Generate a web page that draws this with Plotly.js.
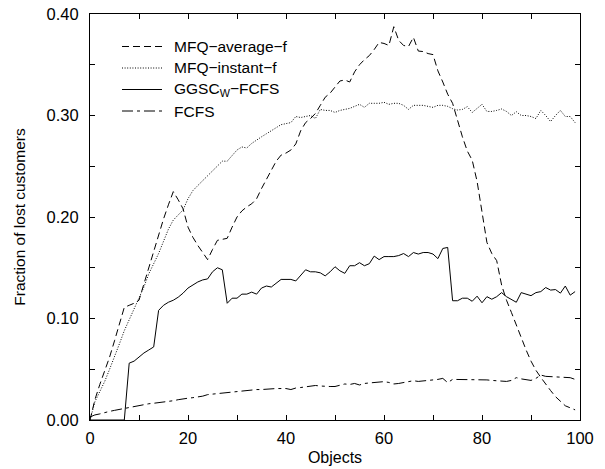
<!DOCTYPE html>
<html>
<head>
<meta charset="utf-8">
<script src="https://cdn.plot.ly/plotly-3.0.1.min.js"></script>
<style>
  html, body { margin: 0; padding: 0; background: #fff; }
  #chart { width: 605px; height: 469px; }
</style>
</head>
<body>
<div id="chart"></div>
<script>
// Number of objects (x axis), 0..99
const objects = Array.from({length: 100}, (_, i) => i);

const seriesNames = ['MFQ\u2212average\u2212f', 'MFQ\u2212instant\u2212f', 'GGSC<sub>W</sub>\u2212FCFS', 'FCFS'];

// Fraction of lost customers per policy
const mfqAverage = [
  0.000, 0.020, 0.035, 0.048, 0.062, 0.078, 0.095, 0.111, 0.113, 0.115,
  0.118, 0.134, 0.152, 0.168, 0.184, 0.198, 0.212, 0.225, 0.217, 0.208,
  0.190, 0.180, 0.172, 0.165, 0.158, 0.168, 0.177, 0.178, 0.179, 0.190,
  0.200, 0.206, 0.210, 0.213, 0.218, 0.228, 0.237, 0.246, 0.255, 0.261,
  0.263, 0.266, 0.272, 0.285, 0.293, 0.297, 0.302, 0.310, 0.318, 0.322,
  0.328, 0.334, 0.335, 0.333, 0.343, 0.350, 0.355, 0.359, 0.365, 0.372,
  0.371, 0.369, 0.3875, 0.374, 0.369, 0.368, 0.377, 0.3635, 0.363, 0.361,
  0.360, 0.344, 0.333, 0.321, 0.312, 0.295, 0.279, 0.265, 0.256, 0.235,
  0.205, 0.175, 0.164, 0.157, 0.133, 0.118, 0.106, 0.093, 0.081, 0.069,
  0.058, 0.049, 0.042, 0.035, 0.029, 0.023, 0.018, 0.014, 0.012, 0.010
];

const mfqInstant = [
  0.000, 0.018, 0.028, 0.038, 0.050, 0.062, 0.075, 0.088, 0.099, 0.109,
  0.120, 0.131, 0.144, 0.154, 0.164, 0.176, 0.188, 0.197, 0.202, 0.207,
  0.218, 0.226, 0.231, 0.236, 0.240, 0.246, 0.251, 0.255, 0.255, 0.261,
  0.266, 0.269, 0.268, 0.2725, 0.276, 0.279, 0.282, 0.285, 0.288, 0.291,
  0.292, 0.293, 0.299, 0.298, 0.299, 0.300, 0.297, 0.306, 0.305, 0.305,
  0.303, 0.305, 0.306, 0.307, 0.309, 0.311, 0.308, 0.312, 0.312, 0.312,
  0.313, 0.311, 0.312, 0.312, 0.310, 0.306, 0.310, 0.310, 0.310, 0.309,
  0.308, 0.310, 0.310, 0.309, 0.3067, 0.3054, 0.306, 0.3087, 0.303, 0.307,
  0.311, 0.304, 0.304, 0.305, 0.3064, 0.304, 0.300, 0.3037, 0.300, 0.300,
  0.299, 0.297, 0.305, 0.300, 0.294, 0.300, 0.305, 0.299, 0.299, 0.293
];

const ggscFcfs = [
  0.000, 0.000, 0.000, 0.000, 0.000, 0.000, 0.000, 0.000, 0.056, 0.058,
  0.062, 0.066, 0.069, 0.072, 0.108, 0.113, 0.116, 0.118, 0.121, 0.125,
  0.130, 0.133, 0.136, 0.138, 0.139, 0.146, 0.150, 0.148, 0.115, 0.120,
  0.120, 0.124, 0.124, 0.126, 0.124, 0.130, 0.132, 0.131, 0.135, 0.1385,
  0.1385, 0.1385, 0.137, 0.143, 0.148, 0.146, 0.146, 0.145, 0.142, 0.146,
  0.151, 0.147, 0.1445, 0.152, 0.152, 0.155, 0.152, 0.154, 0.1615, 0.158,
  0.161, 0.161, 0.161, 0.162, 0.164, 0.161, 0.165, 0.1635, 0.165, 0.165,
  0.1635, 0.159, 0.169, 0.170, 0.1175, 0.1175, 0.120, 0.120, 0.117, 0.122,
  0.1155, 0.1215, 0.119, 0.1215, 0.1255, 0.1215, 0.119, 0.116, 0.1255, 0.124,
  0.1225, 0.1255, 0.1265, 0.1305, 0.128, 0.1285, 0.125, 0.132, 0.123, 0.1265
];

const fcfs = [
  0.003, 0.005, 0.006, 0.0075, 0.0085, 0.0095, 0.0105, 0.0115, 0.0125, 0.013,
  0.014, 0.015, 0.016, 0.0165, 0.017, 0.018, 0.0185, 0.019, 0.020, 0.021,
  0.0215, 0.022, 0.0225, 0.0235, 0.025, 0.0255, 0.026, 0.0265, 0.027, 0.0275,
  0.028, 0.029, 0.029, 0.0295, 0.030, 0.030, 0.0305, 0.031, 0.031, 0.031,
  0.031, 0.030, 0.0315, 0.032, 0.0325, 0.033, 0.034, 0.0335, 0.033, 0.033,
  0.033, 0.0345, 0.0355, 0.035, 0.036, 0.0345, 0.036, 0.0365, 0.037, 0.0378,
  0.0378, 0.037, 0.0355, 0.036, 0.037, 0.038, 0.0387, 0.038, 0.0385, 0.0385,
  0.039, 0.040, 0.041, 0.0368, 0.040, 0.040, 0.040, 0.040, 0.0395, 0.040,
  0.040, 0.0395, 0.039, 0.0385, 0.0378, 0.038, 0.039, 0.0417, 0.0405, 0.040,
  0.039, 0.041, 0.0443, 0.043, 0.0427, 0.0427, 0.0425, 0.042, 0.0417, 0.040
];

// Labelled ticks and the unlabelled ones in between
const xTickVals = [0, 20, 40, 60, 80, 100];
const xTickText = ['0', '20', '40', '60', '80', '100'];
const xMinorVals = [10, 30, 50, 70, 90];
const yTickVals = [0, 0.10, 0.20, 0.30, 0.40];
const yTickText = ['0.00', '0.10', '0.20', '0.30', '0.40'];
const yMinorVals = [0.05, 0.15, 0.25, 0.35];

const FONT = 'Liberation Sans, Arial, Helvetica, sans-serif';
const dashes = ['7px,4px', '1px,1.6px', 'solid', '11px,4px,3px,4px'];
const allSeries = [mfqAverage, mfqInstant, ggscFcfs, fcfs];

const traces = allSeries.map((ys, i) => ({
  x: objects,
  y: ys,
  type: 'scatter',
  mode: 'lines',
  name: seriesNames[i],
  line: {color: '#000', width: 1, dash: dashes[i]},
  showlegend: false,
  hoverinfo: 'skip'
}));

// Legend drawn in paper space: a sample line and a label per series
const legendShapes = [];
const legendNotes = [];
const plotW = 490, plotH = 406;
const legendRows = [46.5, 68, 89.5, 111];
seriesNames.forEach((name, i) => {
  const yp = (406 + 14 - legendRows[i]) / plotH;
  legendShapes.push({
    type: 'line', xref: 'paper', yref: 'paper',
    x0: 32 / plotW, x1: 72 / plotW, y0: yp, y1: yp,
    line: {color: '#000', width: 1, dash: dashes[i]}
  });
  legendNotes.push({
    xref: 'paper', yref: 'paper', x: 82 / plotW, y: yp,
    xanchor: 'left', yanchor: 'middle', showarrow: false,
    text: name, font: {family: FONT, size: 15.5, color: '#000'}
  });
});

const axisCommon = {
  showgrid: false, zeroline: false,
  showline: true, linecolor: '#000', linewidth: 1, mirror: 'ticks',
  ticks: 'inside', ticklen: 5, tickwidth: 1, tickcolor: '#000',
  tickmode: 'array',
  tickfont: {family: FONT, size: 16.5, color: '#000'}
};
const minorCommon = {ticks: 'inside', ticklen: 5, tickwidth: 1, tickcolor: '#000', showgrid: false};

const layout = {
  width: 605, height: 469,
  margin: {l: 90, r: 25, t: 14, b: 49, pad: 0},
  paper_bgcolor: '#fff', plot_bgcolor: '#fff',
  font: {family: FONT, size: 15, color: '#000'},
  xaxis: Object.assign({}, axisCommon, {
    range: [0, 100], tickvals: xTickVals, ticktext: xTickText,
    ticklabelstandoff: 3,
    minor: Object.assign({tickmode: 'array', tickvals: xMinorVals}, minorCommon),
    title: {text: 'Objects', font: {family: FONT, size: 16}, standoff: 6}
  }),
  yaxis: Object.assign({}, axisCommon, {
    range: [0, 0.40], tickvals: yTickVals, ticktext: yTickText,
    ticklabelstandoff: 7,
    minor: Object.assign({tickmode: 'array', tickvals: yMinorVals}, minorCommon),
    title: {text: 'Fraction of lost customers', font: {family: FONT, size: 15.5}, standoff: 17}
  }),
  shapes: legendShapes,
  annotations: legendNotes,
  showlegend: false
};

Plotly.newPlot('chart', traces, layout, {displayModeBar: false, staticPlot: true});
</script>
</body>
</html>
